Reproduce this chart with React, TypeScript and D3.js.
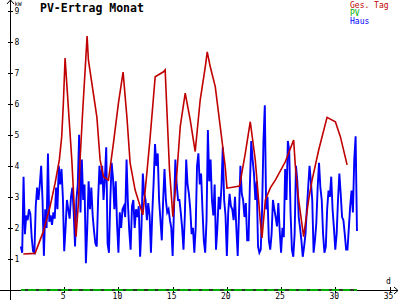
import React from "react";
import * as d3 from "d3";

const W = 400;
const H = 300;

const title = "PV-Ertrag Monat";
const legendLabels = ["Ges. Tag", "PV", "Haus"];
const yTicks = [1, 2, 3, 4, 5, 6, 7, 8, 9];
const xTicks = [5, 10, 15, 20, 25, 30, 35];

// Ges. Tag (red) – vertices
const gesDays = [1.23, 2.31, 3.07, 3.69, 4.16, 4.55, 4.77, 4.92, 5.08, 5.7, 5.91, 6.09, 6.31, 6.46, 6.71, 6.93, 7.11, 7.23, 8.01, 8.31, 8.62, 9.08, 9.54, 10.0, 10.43, 10.78, 11.08, 11.54, 12.25, 12.62, 12.93, 13.39, 14.16, 14.31, 14.47, 14.71, 15.02, 15.39, 15.7, 16.16, 16.62, 17.08, 17.54, 18.01, 18.19, 18.47, 18.93, 19.39, 19.85, 20.01, 21.17, 21.7, 22.16, 22.62, 23.09, 23.24, 23.55, 24.01, 24.47, 25.39, 26.16, 26.32, 26.62, 27.08, 27.54, 27.86, 28.47, 29.24, 30.01, 30.47, 31.09];
const gesValues = [1.16, 1.18, 1.88, 2.68, 3.44, 4.19, 4.94, 6.01, 7.47, 4.19, 2.79, 1.72, 2.8, 4.19, 5.8, 7.09, 8.18, 7.41, 5.58, 4.19, 3.65, 3.54, 4.73, 6.02, 7.02, 5.58, 4.09, 3.22, 2.42, 3.76, 4.94, 6.87, 7.03, 7.09, 5.8, 3.87, 2.36, 3.76, 5.26, 6.34, 5.48, 4.46, 6.12, 7.19, 7.67, 7.19, 6.55, 5.26, 3.97, 3.28, 3.35, 4.4, 5.42, 4.19, 2.2, 1.68, 2.9, 3.29, 3.54, 4.13, 4.83, 3.97, 2.9, 1.72, 2.9, 3.54, 4.51, 5.56, 5.42, 4.94, 4.03];

// PV (green) – daily values
const pvDays = [1, 2, 3, 4, 5, 6, 7, 8, 9, 10, 11, 12, 13, 14, 15, 16, 17, 18, 19, 20, 21, 22, 23, 24, 25, 26, 27, 28, 29, 30, 31, 32];
const pvValues = [0, 0, 0, 0, 0, 0, 0, 0, 0, 0, 0, 0, 0, 0, 0, 0, 0, 0, 0, 0, 0, 0, 0, 0, 0, 0, 0, 0, 0, 0, 0, 0];

// Haus (blue) – 3-hourly values from day 1 to day 32
const hausStartDay = 1;
const hausPerDay = 8;
const hausValues = [
  1.4, 1.2, 3.65, 1.8, 2.4, 2.25, 2.6, 2.45,
  1.7, 1.25, 1.2, 2.7, 3.3, 2.9, 3.4, 4.0,
  2.9, 1.1, 2.6, 2.0, 4.4, 2.2, 2.4, 2.1,
  2.5, 2.3, 3.3, 2.6, 4.0, 3.4, 3.9, 3.0,
  1.25, 2.0, 2.9, 2.6, 2.3, 3.0, 3.3, 2.5,
  1.4, 2.9, 3.4, 5.0, 2.5, 4.2, 2.9, 3.4,
  0.86, 2.0, 3.5, 2.6, 3.3, 2.4, 1.9, 1.5,
  1.4, 2.9, 4.0, 3.4, 4.0, 2.9, 3.6, 4.6,
  1.5, 1.2, 2.9, 4.1, 3.6, 2.6, 3.5, 2.1,
  1.2, 2.5, 2.0, 2.6, 2.7, 2.35, 4.2, 2.8,
  1.9, 1.3, 2.7, 2.9, 2.0, 2.6, 2.35, 2.7,
  1.07, 2.0, 3.75, 3.1, 2.9, 2.25, 2.8, 2.4,
  1.2, 2.5, 3.5, 4.7, 4.0, 4.4, 2.9, 2.25,
  1.6, 2.9, 3.9, 2.9, 2.5, 2.6, 2.25, 2.0,
  1.1, 2.6, 4.2, 3.4, 2.9, 2.9, 2.5, 2.0,
  1.3, 2.4, 4.2, 3.4, 3.1, 2.6, 1.8, 2.0,
  1.2, 2.0, 4.0, 4.4, 3.4, 3.75, 2.6, 1.6,
  1.2, 2.25, 5.15, 3.5, 4.2, 2.9, 2.4, 3.4,
  1.3, 2.0, 3.0, 2.6, 3.3, 4.6, 2.9, 2.4,
  1.1, 2.5, 3.1, 2.7, 2.6, 2.25, 3.0, 2.0,
  1.1, 2.5, 4.0, 3.1, 2.9, 2.35, 2.8, 1.6,
  1.6, 3.4, 4.8, 4.2, 3.75, 2.9, 3.5, 1.4,
  1.2, 1.3, 2.6, 4.8, 5.95, 2.6, 3.0, 1.6,
  1.3, 1.8, 2.9, 2.6, 2.35, 2.05, 2.8, 1.9,
  1.2, 2.0, 1.7, 3.9, 2.9, 4.8, 4.5, 2.5,
  1.3, 1.07, 1.8, 4.0, 3.5, 2.35, 2.0, 1.6,
  1.07, 1.4, 1.8, 2.6, 3.3, 4.0, 3.5, 2.9,
  1.2, 1.6, 2.15, 3.3, 4.1, 3.3, 2.9, 1.8,
  1.2, 1.4, 2.6, 3.2, 3.0, 3.65, 2.6, 2.0,
  1.3, 1.8, 2.9, 3.75, 3.1, 2.35, 2.25, 1.8,
  1.3, 1.3, 2.0, 2.7, 3.2, 2.5, 4.2, 4.95,
  1.9,
];

const RED = "#c00000";
const GREEN = "#00b000";
const BLUE = "#0000ff";
const FONT = "'DejaVu Sans Mono', monospace";

export default function App() {
  const x = d3.scaleLinear().domain([0, 35]).range([10, 389.5]);
  const y = d3.scaleLinear().domain([0, 9]).range([290, 10.6]);
  const line = d3
    .line<[number, number]>()
    .x((d) => x(d[0]))
    .y((d) => y(d[1]));

  const gesPts: [number, number][] = gesDays.map((d, i) => [d, gesValues[i]]);
  const pvPts: [number, number][] = pvDays.map((d, i) => [d, pvValues[i]]);
  const hausPts: [number, number][] = hausValues.map((v, i) => [hausStartDay + i / hausPerDay, v]);
  const dayPx = x(1) - x(0);

  return (
    <svg
      width={W}
      height={H}
      style={{ position: "fixed", left: 0, top: 0, background: "#fff" }}
      fontFamily={FONT}
    >
      <rect width={W} height={H} fill="#fff" />
      {/* axes */}
      <line x1={0} x2={398} y1={y(0) + 0.5} y2={y(0) + 0.5} stroke="#000" strokeWidth={1} shapeRendering="crispEdges" />
      <path d={`M394,${y(0) - 3} L398,${y(0) + 0.5} L394,${y(0) + 4}`} fill="none" stroke="#000" strokeWidth={1} />
      <line x1={x(0) + 0.5} x2={x(0) + 0.5} y1={0} y2={300} stroke="#000" strokeWidth={1} shapeRendering="crispEdges" />
      <path d={`M${x(0) - 3},4 L${x(0) + 0.5},0 L${x(0) + 4},4`} fill="none" stroke="#000" strokeWidth={1} />
      {yTicks.map((t) => (
        <g key={"y" + t}>
          <line x1={x(0) - 2} x2={x(0) + 3} y1={Math.round(y(t)) + 0.5} y2={Math.round(y(t)) + 0.5} stroke="#000" shapeRendering="crispEdges" />
          <text x={x(0) + 4.5} y={y(t) + 3.5} fontSize={8} fill="#000">{t}</text>
        </g>
      ))}
      <text x={x(0) + 4.5} y={5.5} fontSize={6} fill="#000">kW</text>
      {xTicks.map((t) => (
        <g key={"x" + t}>
          <line x1={Math.round(x(t)) + 0.5} x2={Math.round(x(t)) + 0.5} y1={y(0) - 3} y2={y(0) + 3} stroke="#000" shapeRendering="crispEdges" />
          <text x={x(t) - 1} y={298.5} fontSize={8} textAnchor="middle" fill="#000">{t}</text>
        </g>
      ))}
      <text x={386} y={284} fontSize={8} fill="#000">d</text>

      {/* PV */}
      <path d={line(pvPts) || ""} fill="none" stroke={GREEN} strokeWidth={2} shapeRendering="crispEdges" />
      <path
        d={line(pvPts) || ""}
        fill="none"
        stroke="#2a3a2a"
        strokeWidth={2}
        strokeDasharray={`3.3 ${dayPx - 3.3}`}
        strokeDashoffset={-4.2}
        shapeRendering="crispEdges"
      />

      {/* Haus */}
      <path d={line(hausPts) || ""} fill="none" stroke={BLUE} strokeWidth={1.9} strokeLinejoin="miter" />
      {/* Ges. Tag */}
      <path d={line(gesPts) || ""} fill="none" stroke={RED} strokeWidth={1.6} />

      {/* title + legend */}
      <text x={40} y={11.5} fontSize={11.5} fontWeight="bold" fill="#000">{title}</text>
      {legendLabels.map((l, i) => (
        <text key={l} x={350} y={7.5 + i * 8} fontSize={8} fill={[RED, GREEN, BLUE][i]}>{l}</text>
      ))}
    </svg>
  );
}
